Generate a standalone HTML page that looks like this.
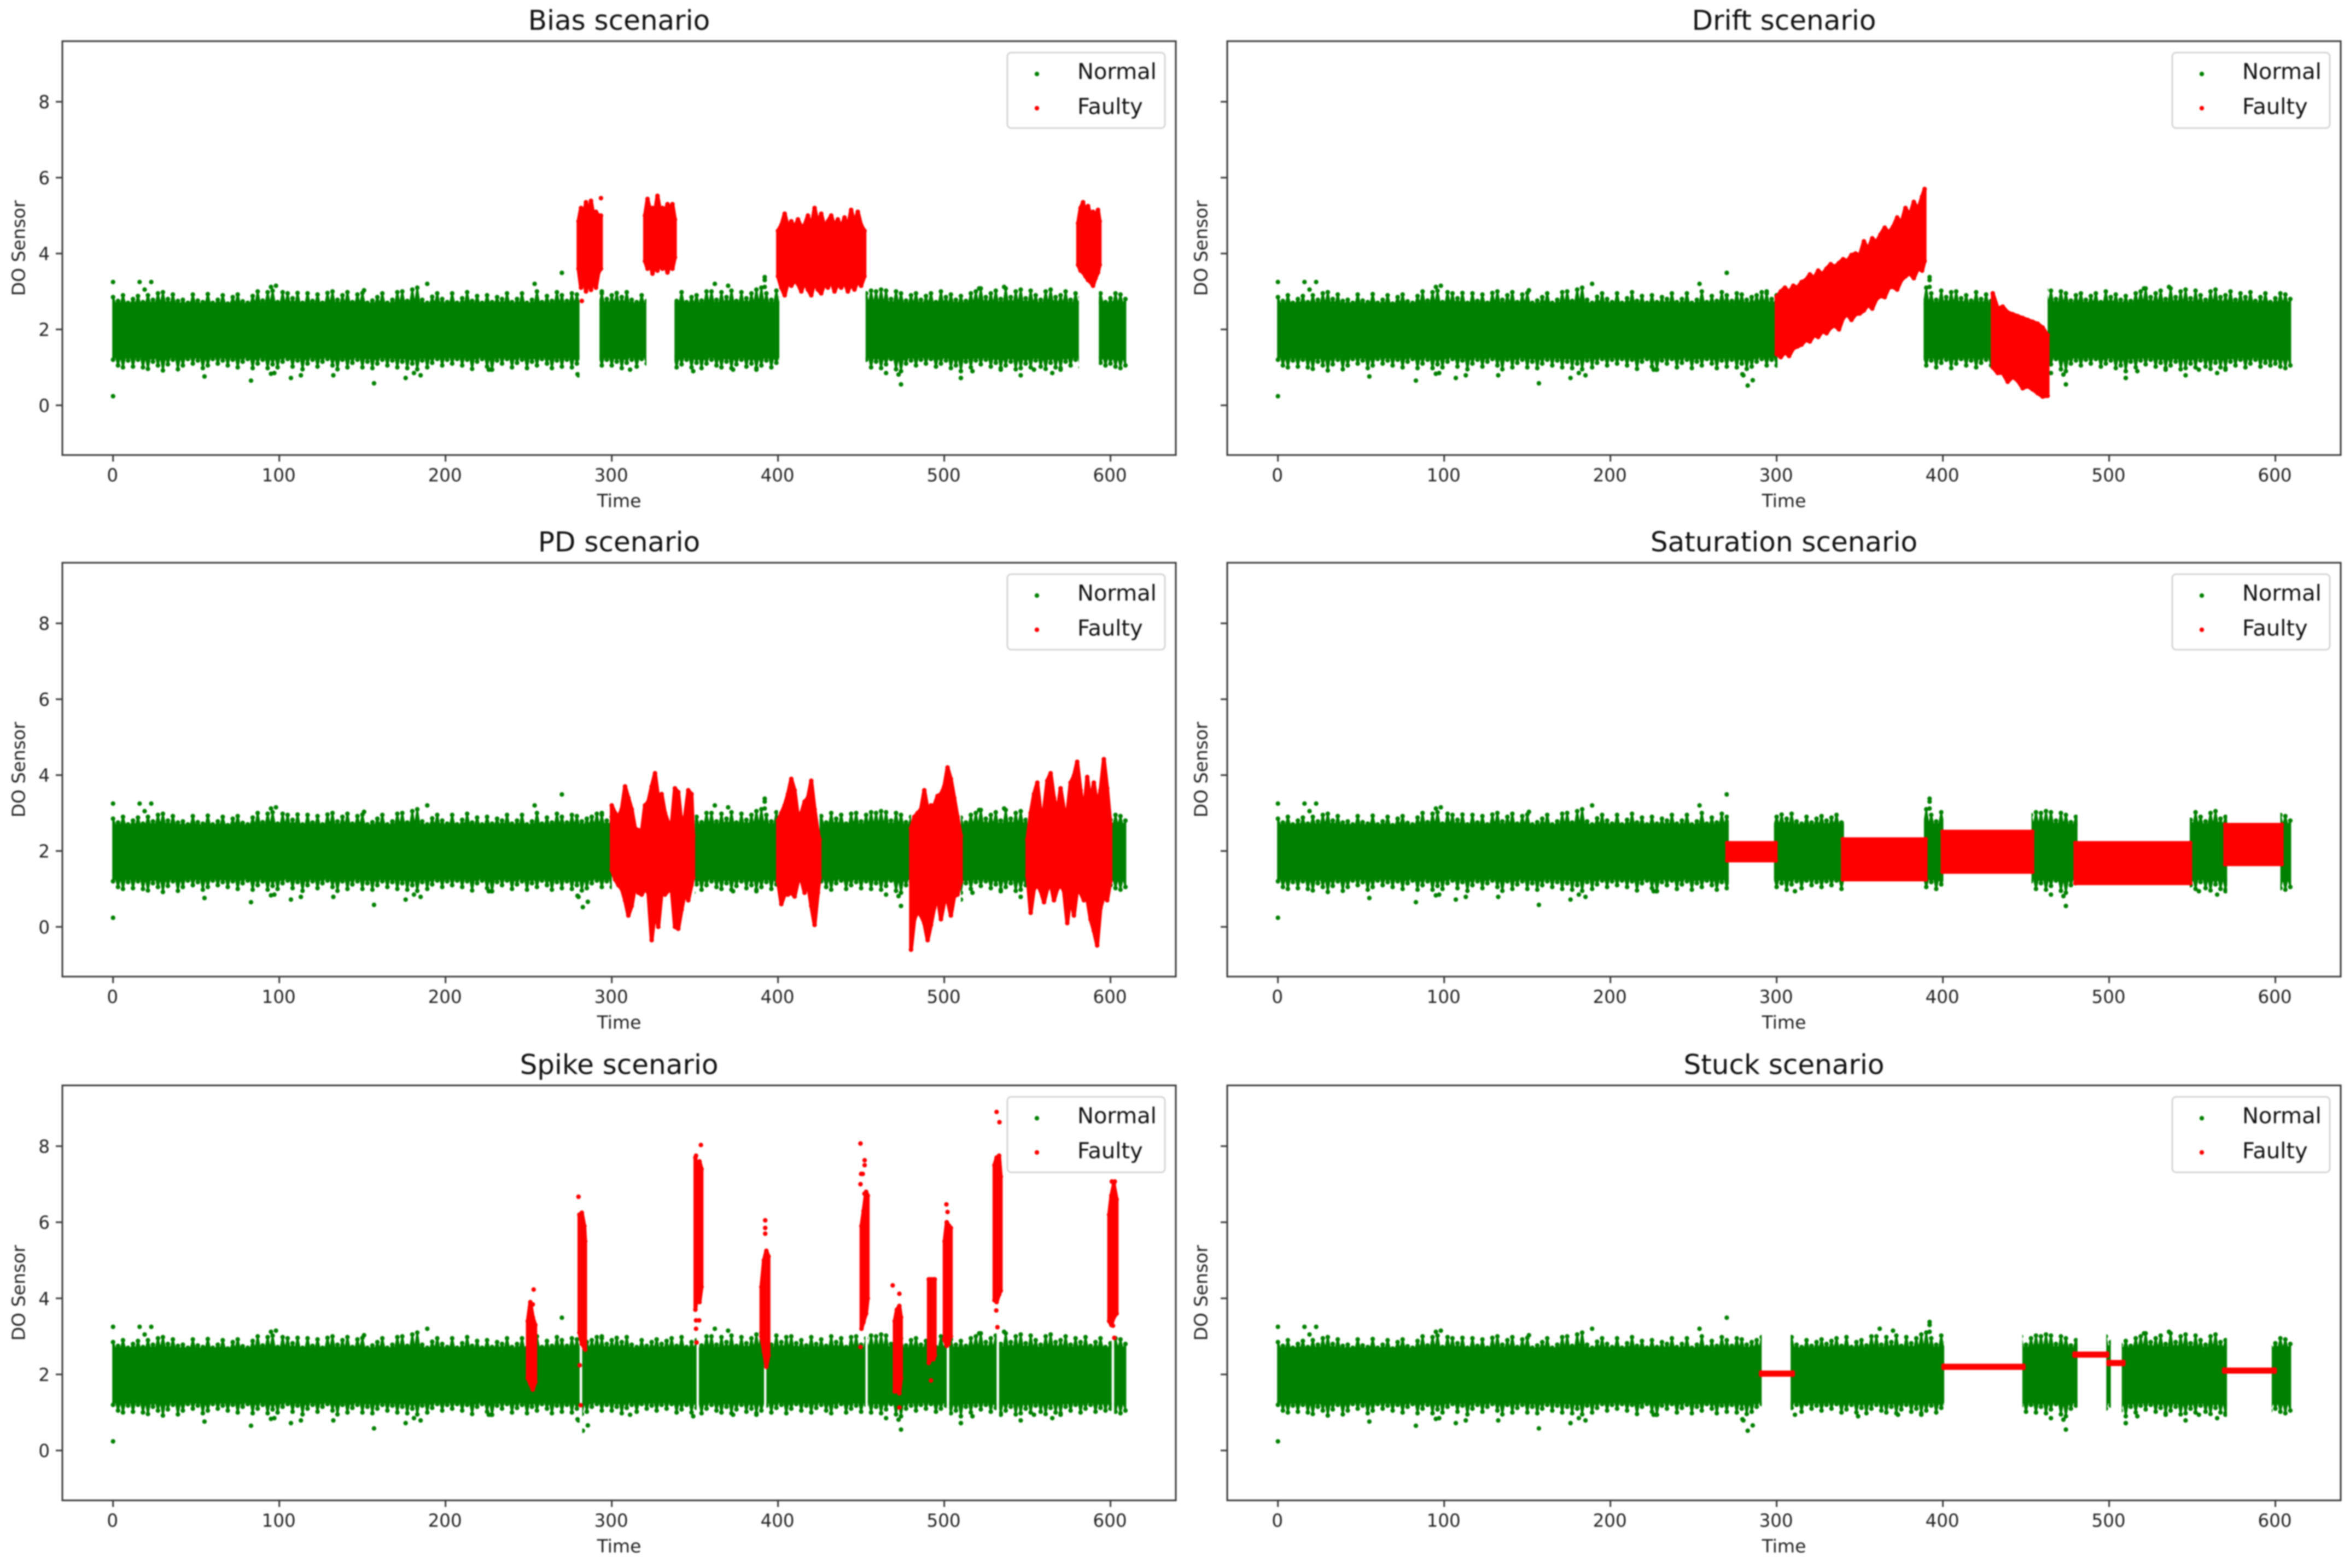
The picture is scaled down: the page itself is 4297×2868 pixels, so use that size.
<!DOCTYPE html>
<html lang="en">
<head>
<meta charset="utf-8">
<title>DO sensor fault scenarios</title>
<style>
html,body{margin:0;padding:0;background:#fff;}
svg{display:block;filter:blur(1.2px);font-family:"DejaVu Sans","Liberation Sans",sans-serif;}
</style>
</head>
<body>
<svg id="figure" xmlns="http://www.w3.org/2000/svg" width="4297" height="2868" viewBox="0 0 4297 2868"></svg>
<script>
// ---- axis domain and tick labels ----
const xTickValues = [0, 100, 200, 300, 400, 500, 600];
const yTickValues = [0, 2, 4, 6, 8];
const xDomain = [-30.5, 639.3];
const yDomain = [-1.311, 9.597];

// ---- normal series (shared by all panels): solid core plus sampled fringe ----
const normalCoreTop = 2.66;
const normalCoreBottom = 1.3;
const normalTimes = [0,3,6,9,12,15,18,21,24,27,30,33,36,39,42,45,48,51,54,57,60,63,66,69,72,75,78,81,84,87,90,93,96,99,102,105,108,111,114,117,120,123,126,129,132,135,138,141,144,147,150,153,156,159,162,165,168,171,174,177,180,183,186,189,192,195,198,201,204,207,210,213,216,219,222,225,228,231,234,237,240,243,246,249,252,255,258,261,264,267,270,273,276,279,282,285,288,291,294,297,300,303,306,309,312,315,318,321,324,327,330,333,336,339,342,345,348,351,354,357,360,363,366,369,372,375,378,381,384,387,390,393,396,399,402,405,408,411,414,417,420,423,426,429,432,435,438,441,444,447,450,453,456,459,462,465,468,471,474,477,480,483,486,489,492,495,498,501,504,507,510,513,516,519,522,525,528,531,534,537,540,543,546,549,552,555,558,561,564,567,570,573,576,579,582,585,588,591,594,597,600,603,606,609];
const normalUpper = [2.85,2.75,2.9,2.7,2.8,2.88,2.72,2.9,2.78,2.95,
2.98,2.8,2.92,2.75,2.78,2.7,2.92,2.76,2.72,2.93,
2.7,2.78,2.9,2.68,2.85,2.92,2.74,2.7,2.88,3.0,
2.76,2.98,3.02,2.72,2.98,2.95,2.82,2.96,2.7,2.95,
2.75,2.92,2.7,2.96,3.0,2.78,2.9,2.98,2.72,2.92,
2.96,2.7,2.76,2.85,2.95,2.7,2.78,2.98,3.0,2.75,
3.05,3.1,2.78,2.7,2.86,2.95,2.8,2.72,2.95,2.7,
2.82,2.98,2.75,2.88,2.7,2.9,2.72,2.85,2.8,2.95,
2.72,2.8,2.95,2.7,2.78,3.0,2.72,2.88,2.75,2.98,
2.9,2.75,2.95,2.92,2.78,2.85,2.9,2.98,2.95,2.8,
2.9,2.96,2.85,2.98,2.78,2.72,2.9,2.75,2.85,2.92,
2.8,2.88,2.95,2.75,2.98,2.72,2.85,2.9,2.76,3.0,
3.0,2.78,2.98,2.85,3.02,2.75,2.98,2.82,2.95,3.05,
3.1,2.95,2.78,3.02,2.85,2.98,3.0,2.82,2.9,2.76,
2.98,2.8,2.92,2.75,3.0,2.85,2.95,2.72,2.98,3.0,
2.78,2.95,3.02,3.0,3.05,3.02,2.8,3.0,2.95,2.76,
2.9,2.95,2.78,2.88,2.95,2.72,3.0,2.85,2.92,2.78,
2.88,2.75,2.95,3.0,3.08,2.85,2.95,3.02,2.8,3.08,
2.85,3.0,3.05,2.82,3.02,2.9,2.78,3.0,3.05,2.85,
2.9,3.0,2.78,2.95,2.85,2.98,2.75,2.85,2.95,2.72,
2.82,2.95,2.92,2.8];
const normalLower = [1.2,1.05,1.0,1.18,1.02,1.2,1.0,0.96,1.15,1.05,
0.92,1.08,1.2,0.95,1.05,1.22,1.1,1.18,0.98,1.05,
1.22,1.1,1.18,1.05,1.2,1.0,1.15,1.22,0.98,1.1,
1.2,0.98,1.08,1.0,1.15,1.22,1.02,1.18,0.95,1.1,
1.2,1.02,1.15,1.22,1.05,0.95,1.2,1.0,1.12,1.2,
1.0,1.15,0.98,1.1,1.2,1.05,1.18,1.0,1.15,0.98,
1.1,0.95,1.18,1.0,1.12,1.22,1.05,1.2,1.1,1.22,
1.05,1.2,0.96,1.15,1.22,1.02,0.94,1.18,1.1,1.22,
1.0,1.12,1.2,0.98,1.15,1.05,1.22,1.1,0.98,1.18,
1.02,1.2,1.0,1.1,0.96,1.02,1.15,1.22,1.05,1.2,
1.05,1.15,0.98,1.12,1.2,1.02,1.22,1.1,1.18,1.05,
1.2,1.1,1.22,1.0,1.08,1.2,1.0,1.12,0.98,1.1,
1.2,1.05,1.0,1.15,0.98,1.08,1.2,1.02,1.1,0.98,
1.05,1.18,1.0,1.12,1.2,0.98,1.1,1.22,1.05,1.18,
1.0,1.12,1.2,1.05,0.98,1.15,1.22,1.0,1.1,1.18,
1.02,1.2,1.0,1.15,0.98,1.08,1.22,0.95,0.9,1.1,
1.18,1.05,1.2,1.1,1.22,1.02,1.1,1.18,0.98,1.05,
0.9,1.15,1.0,1.18,1.08,1.2,1.02,1.12,0.98,1.05,
1.15,0.95,0.98,1.1,1.0,1.18,1.02,0.96,1.12,1.0,
0.98,1.15,1.05,1.2,1.0,1.1,1.2,1.02,1.12,1.05,
1.1,1.02,0.98,1.05];

// ---- normal outliers (shared by all panels) ----
const normalOutlierTimes = [0,16,23,19,0,55,83,95,97,107,113,132.5,157,176,181,185,189,95,98,151,253.6,270,280,226,294,311,349,373,387,362,370,392,392,392,465,474,472.5,510,517,546,534,565,554,570,536,521,282.6,285.6,279.4,227.5,510];
const normalOutlierValues = [3.25,3.25,3.25,3.05,0.24,0.76,0.65,0.83,0.85,0.72,0.79,0.79,0.58,0.72,0.85,0.79,3.2,3.12,3.15,3.03,3.2,3.49,0.79,0.94,3.0,0.94,0.9,0.94,0.94,3.2,3.15,3.3,3.12,3.38,0.85,0.55,0.81,0.72,0.9,0.79,0.94,0.85,0.94,0.94,3.12,3.08,0.52,0.66,0.82,0.94,0.72];

// ---- time spans where each panel shows normal readings ----
const biasNormalRuns = [[-2,280.6],[292.6,320.8],[337.7,400.8],[452.7,581],[593,611]];
const driftNormalRuns = [[-2,300.5],[388.4,429.5],[463,611]];
const pdNormalRuns = [[-2,300],[350,400],[425,480],[510,550],[600,611]];
const saturationNormalRuns = [[-2,271.2],[298.4,340.5],[388.6,400.3],[453.3,481],[548.5,571],[603,611]];
const spikeNormalRuns = [[-2,280.7],[282.2,351],[352.4,391.6],[393,452.6],[454,501.5],[503,531.5],[533,600.7],[602.2,611]];
const stuckNormalRuns = [[-2,291],[308.4,400.8],[447.8,481],[498.3,501],[507.6,570.9],[597.8,611]];

// ---- bias faults ----
const biasFaultTimes = [[280,281.5,283,284.5,286,287.5,289,290.5,292,293.5],[320,321.5,323,324.5,326,327.5,329,330.5,332,333.5,335,336.5,338],[400,402,404,406,408,410,412,414,416,418,420,422,424,426,428,430,432,434,436,438,440,442,444,446,448,450,452],[580.5,582,583.5,585,586.5,588,589.5,591,592.5,593.5]];
const biasFaultUpper = [[4.85,5.2,4.95,5.35,5.05,5.39,5.0,5.1,5.0,5.0],[5.0,5.44,5.15,5.2,5.1,5.52,5.15,5.2,5.1,5.3,5.2,5.3,4.9],[4.6,4.75,5.05,4.7,4.85,4.68,4.9,4.7,4.75,5.0,4.68,5.2,4.8,5.05,4.7,4.85,5.0,4.72,4.9,4.68,4.95,4.7,5.15,4.8,5.1,4.75,4.6],[4.8,5.2,5.35,5.05,5.25,5.0,5.1,5.0,5.15,4.85]];
const biasFaultLower = [[3.6,3.1,3.4,3.0,3.3,3.04,3.35,3.1,3.5,3.6],[3.8,3.6,3.75,3.47,3.7,3.55,3.75,3.6,3.7,3.5,3.7,3.6,3.9],[3.4,3.1,2.9,3.25,3.15,3.28,3.2,3.0,3.25,3.05,2.9,3.25,3.05,2.95,3.2,3.1,3.28,3.0,3.2,3.1,3.25,3.0,3.2,3.05,3.28,3.15,3.4],[3.7,3.55,3.5,3.4,3.3,3.25,3.15,3.35,3.5,3.7]];
const biasFaultOutlierTimes = [282,293.5];
const biasFaultOutlierValues = [2.75,5.46];

// ---- drift faults ----
const driftFaultTimes = [[300,302.5,305,307.5,310,312.5,315,317.5,320,322.5,325,327.5,330,332.5,335,337.5,340,342.5,345,347.5,350,352.5,355,357.5,360,362.5,365,367.5,370,372.5,375,377.5,380,382.5,385,387.5,389],[430,433,436,439,442,445,448,451,454,457,460,463]];
const driftFaultUpper = [[2.85,3.0,3.1,2.98,3.15,3.1,3.25,3.3,3.45,3.35,3.55,3.45,3.6,3.72,3.65,3.75,3.85,3.8,3.96,4.0,3.95,4.32,4.1,4.4,4.3,4.5,4.68,4.55,4.7,4.95,4.8,5.2,5.0,5.36,5.15,5.5,5.7],[2.95,2.55,2.6,2.45,2.4,2.35,2.3,2.25,2.2,2.15,2.05,1.85]];
const driftFaultLower = [[1.35,1.27,1.4,1.3,1.5,1.55,1.6,1.72,1.68,1.85,1.8,1.95,1.9,2.05,2.1,2.0,2.3,2.4,2.25,2.4,2.42,2.5,2.65,2.55,2.8,2.88,2.85,3.1,3.12,3.05,3.3,3.4,3.48,3.35,3.6,3.55,3.8],[1.0,0.85,0.85,0.62,0.75,0.65,0.45,0.5,0.42,0.32,0.23,0.25]];
const driftFaultOutlierTimes = [];
const driftFaultOutlierValues = [];

// ---- PD faults ----
const pdFaultTimes = [[300,302,304,306,308,310,312,314,316,318,320,322,324,326,328,330,332,334,336,338,340,342,344,346,348,349],[400,402,404,406,408,410,412,414,416,418,420,422,424,425],[480,482,484,486,488,490,492,494,496,498,500,502,504,506,508,510],[550,552,554,556,558,560,562,564,566,568,570,572,574,576,578,580,582,584,586,588,590,592,594,596,598,600]];
const pdFaultUpper = [[3.2,3.0,2.9,3.1,3.7,3.4,3.1,2.6,2.55,2.5,3.2,3.3,3.7,4.05,3.4,3.5,3.0,2.75,2.7,3.65,3.55,2.7,2.9,3.6,3.5,2.4],[2.8,3.0,3.2,3.5,3.9,3.6,2.9,3.0,3.3,3.4,3.85,3.1,2.5,2.3],[2.6,2.9,3.0,3.1,3.6,3.1,3.2,3.2,3.45,3.5,3.7,4.2,3.9,3.4,2.9,2.4],[2.3,3.0,3.5,3.8,3.0,3.1,3.85,4.05,3.4,3.0,3.65,3.1,3.0,3.8,3.98,4.35,3.6,3.0,3.95,3.3,3.8,3.2,3.6,4.42,3.65,2.7]];
const pdFaultLower = [[1.5,1.25,1.1,1.0,0.7,0.3,0.55,1.05,0.9,0.85,1.0,0.9,-0.35,0.4,0.0,0.9,0.85,0.95,1.0,0.0,-0.05,0.45,0.9,0.7,1.1,1.3],[1.2,0.6,0.85,0.85,0.9,0.8,1.2,1.25,0.9,1.15,0.55,0.05,0.9,1.3],[-0.6,0.2,0.4,0.3,0.1,-0.35,0.05,0.5,0.8,0.2,0.65,0.7,0.3,0.8,0.85,1.2],[1.35,0.37,1.0,1.1,0.95,0.65,1.0,1.15,0.7,1.0,1.1,0.95,0.1,0.8,0.3,1.0,0.9,0.7,0.75,0.2,-0.1,-0.49,0.5,0.8,0.7,1.2]];
const pdFaultOutlierTimes = [];
const pdFaultOutlierValues = [];

// ---- saturation faults ----
const saturationFaultTimes = [[270.3,299.4],[339.8,389.6],[399.8,453.8],[479.7,548.8],[569.9,603.8]];
const saturationFaultUpper = [[2.21,2.21],[2.31,2.31],[2.51,2.51],[2.21,2.21],[2.69,2.69]];
const saturationFaultLower = [[1.75,1.75],[1.25,1.25],[1.45,1.45],[1.15,1.15],[1.65,1.65]];
const saturationFaultOutlierTimes = [];
const saturationFaultOutlierValues = [];

// ---- spike faults ----
const spikeFaultTimes = [[249.5,251,252.5,254],[280.5,282,283.5,284],[350.3,351.5,352.8,354],[390,391.5,393,394.3],[450.2,451.5,453,454],[470.2,471.5,473,474],[490.7,492,493.5,494.3],[500.2,501.5,503,504],[530.2,531.5,533,534],[599.2,600.5,602,603.7]];
const spikeFaultUpper = [[3.4,3.9,3.5,3.3],[6.2,6.25,5.9,5.5],[7.7,7.2,7.6,7.4],[4.3,5.0,5.25,5.1],[5.9,6.3,6.8,6.7],[3.4,3.7,3.8,3.5],[4.5,4.5,4.5,4.5],[5.5,6.0,5.9,5.85],[7.5,7.7,7.75,7.2],[6.2,6.7,7.0,6.6]];
const spikeFaultLower = [[1.9,1.75,1.6,1.8],[3.1,2.8,2.7,2.65],[3.7,4.2,3.9,4.3],[3.0,2.6,2.2,2.5],[3.2,3.4,3.6,4.0],[1.55,1.6,1.5,1.9],[2.3,2.4,2.4,2.5],[2.9,2.75,2.9,3.0],[3.95,3.9,4.1,4.2],[3.4,3.3,3.5,3.6]];
const spikeFaultOutlierTimes = [253,252.5,280,280.7,281.3,353.6,350.7,350.7,352.6,350.7,351,392.3,392.3,392.3,449.6,452.1,452.1,450,451,449.6,452,449.6,451.3,469,473,473,531.5,533.2,531.3,532,500,502.7,492,501.3,502,602.3,601.5,600.8,602.6];
const spikeFaultOutlierValues = [4.23,3.84,6.67,2.24,1.19,8.03,7.75,3.42,3.42,3.2,2.84,6.05,5.85,5.7,8.07,7.63,7.5,7.27,7.27,7.0,6.75,2.72,3.36,4.34,4.12,1.13,8.9,8.63,3.68,3.24,2.92,2.8,1.84,6.47,6.27,2.96,3.28,7.07,7.07];

// ---- stuck faults ----
const stuckFaultTimes = [[290.6,309.7],[400.4,448.5],[479.2,498.8],[499.6,508.6],[569.2,599.6]];
const stuckFaultUpper = [[2.05,2.05],[2.23,2.23],[2.55,2.55],[2.33,2.33],[2.13,2.13]];
const stuckFaultLower = [[1.99,1.99],[2.17,2.17],[2.49,2.49],[2.27,2.27],[2.07,2.07]];
const stuckFaultOutlierTimes = [];
const stuckFaultOutlierValues = [];

// ---- panel layout ----
const plotLeft = 114, plotTop = 75.3, plotWidth = 2036;
const plotHeights = [757, 757, 759];
const columnOffsets = [0, 2130];
const rowOffsets = [0, 954, 1910];
const yLabelCentres = [34, 2196];
const markRadius = 4.2;
const normalColour = '#008000';
const faultyColour = '#ff0000';
const svgNS = 'http://www.w3.org/2000/svg';
const figure = document.getElementById('figure');

function xScale(col, t) {
  return plotLeft + columnOffsets[col] + (t - xDomain[0]) / (xDomain[1] - xDomain[0]) * plotWidth;
}
function yScale(row, v) {
  return plotTop + rowOffsets[row] + (yDomain[1] - v) / (yDomain[1] - yDomain[0]) * plotHeights[row];
}
function make(tag, parent, attrs, text) {
  const el = document.createElementNS(svgNS, tag);
  for (const k in attrs) el.setAttribute(k, attrs[k]);
  if (text !== undefined) el.textContent = text;
  parent.appendChild(el);
  return el;
}
function vertex(col, row, t, v) {
  return xScale(col, t).toFixed(1) + ',' + yScale(row, v).toFixed(1);
}

function addEdgeDots(parent, col, row, times, upper, lower, colour, pointName) {
  times.forEach(function (t, i) {
    const top = make('circle', parent, { cx: xScale(col, t).toFixed(1), cy: yScale(row, upper[i]).toFixed(1), r: markRadius, fill: colour });
    
    
    const bottom = make('circle', parent, { cx: xScale(col, t).toFixed(1), cy: yScale(row, lower[i]).toFixed(1), r: markRadius, fill: colour });
    
    
  });
}

function drawNormalBand(parent, col, row, slug) {
  const pts = [];
  const n = normalTimes.length;
  for (let i = 0; i < n; i++) {
    pts.push(vertex(col, row, normalTimes[i], normalUpper[i]));
    if (i < n - 1) pts.push(vertex(col, row, (normalTimes[i] + normalTimes[i + 1]) / 2, normalCoreTop));
  }
  for (let i = n - 1; i >= 0; i--) {
    pts.push(vertex(col, row, normalTimes[i], normalLower[i]));
    if (i > 0) pts.push(vertex(col, row, (normalTimes[i] + normalTimes[i - 1]) / 2, normalCoreBottom));
  }
  const band = make('polygon', parent, { points: pts.join(' '), fill: normalColour, stroke: normalColour, 'stroke-width': 3, 'stroke-linejoin': 'round' });
  
  
  addEdgeDots(parent, col, row, normalTimes, normalUpper, normalLower, normalColour, slug + '-normal-point');
}

function drawFaultBand(parent, col, row, times, upper, lower, slug) {
  const pts = [];
  times.forEach(function (t, i) { pts.push(vertex(col, row, t, upper[i])); });
  for (let i = times.length - 1; i >= 0; i--) { pts.push(vertex(col, row, times[i], lower[i])); }
  const band = make('polygon', parent, { points: pts.join(' '), fill: faultyColour, stroke: faultyColour, 'stroke-width': 7, 'stroke-linejoin': 'round' });
  
  
  addEdgeDots(parent, col, row, times, upper, lower, faultyColour, slug + '-faulty-point');
}

function drawPoints(parent, col, row, times, values, colour, pointName) {
  times.forEach(function (t, i) {
    const dot = make('circle', parent, { cx: xScale(col, t).toFixed(1), cy: yScale(row, values[i]).toFixed(1), r: markRadius, fill: colour });
    
    
  });
}

function drawPanel(slug, title, col, row, runs, faultTimes, faultUpper, faultLower, faultOutT, faultOutV) {
  const L = plotLeft + columnOffsets[col], T = plotTop + rowOffsets[row], H = plotHeights[row];
  const panel = make('g', figure, {});
  
  

  // clip for normal runs
  const clip = make('clipPath', panel, { id: slug + '-normal-clip' });
  runs.forEach(function (r) {
    make('rect', clip, { x: xScale(col, r[0]), y: T, width: xScale(col, r[1]) - xScale(col, r[0]), height: H, rx: 3 });
  });

  // normal series
  const normal = make('g', panel, { 'clip-path': 'url(#' + slug + '-normal-clip)' });
  
  
  drawNormalBand(normal, col, row, slug);
  drawPoints(normal, col, row, normalOutlierTimes, normalOutlierValues, normalColour, slug + '-normal-outlier');

  // faulty series
  const faulty = make('g', panel, {});
  
  
  faultTimes.forEach(function (times, w) {
    drawFaultBand(faulty, col, row, times, faultUpper[w], faultLower[w], slug);
  });
  drawPoints(faulty, col, row, faultOutT, faultOutV, faultyColour, slug + '-faulty-outlier');

  // frame
  const frame = make('rect', panel, { x: L, y: T, width: plotWidth, height: H, fill: 'none', stroke: '#3a3a3a', 'stroke-width': 3 });
  
  

  // x ticks
  xTickValues.forEach(function (v) {
    const px = xScale(col, v);
    const tick = make('line', panel, { x1: px, x2: px, y1: T + H, y2: T + H + 12, stroke: '#3a3a3a', 'stroke-width': 3 });
    
    
    const label = make('text', panel, { x: px - 1, y: T + H + 48, 'text-anchor': 'middle', 'font-size': 32.5, fill: '#222' }, String(v));
    
    
  });

  // y ticks
  yTickValues.forEach(function (v) {
    const py = yScale(row, v);
    const tick = make('line', panel, { x1: L - 12, x2: L, y1: py, y2: py, stroke: '#3a3a3a', 'stroke-width': 3 });
    
    
    if (col === 0) {
      const label = make('text', panel, { x: L - 23, y: py + 12, 'text-anchor': 'end', 'font-size': 32.5, fill: '#222' }, String(v));
      
      
    }
  });

  // titles and axis labels
  const cx = L + plotWidth / 2;
  const titleEl = make('text', panel, { x: cx, y: T - 21, 'text-anchor': 'middle', 'font-size': 50, fill: '#111' }, title);
  
  
  const xTitle = make('text', panel, { x: cx, y: T + H + 95, 'text-anchor': 'middle', 'font-size': 33, fill: '#222' }, 'Time');
  
  
  const yc = T + H / 2;
  const lx = yLabelCentres[col];
  const yTitle = make('text', panel, { x: lx, y: yc, 'text-anchor': 'middle', 'dominant-baseline': 'central', 'font-size': 33, fill: '#222', transform: 'rotate(-90 ' + lx + ' ' + yc + ')' }, 'DO Sensor');
  
  

  // legend
  const lg = make('g', panel, {});
  
  
  const lgLeft = L + 1728, lgTop = T + 21;
  const box = make('rect', lg, { x: lgLeft, y: lgTop, width: 288, height: 138, rx: 7, fill: '#fff', 'fill-opacity': 0.85, stroke: '#d6d6d6', 'stroke-width': 3 });
  
  
  const m1 = make('circle', lg, { cx: lgLeft + 54, cy: lgTop + 39, r: markRadius, fill: normalColour });
  
  
  const t1 = make('text', lg, { x: lgLeft + 128, y: lgTop + 48, 'font-size': 40, fill: '#111' }, 'Normal');
  
  
  const m2 = make('circle', lg, { cx: lgLeft + 54, cy: lgTop + 101.6, r: markRadius, fill: faultyColour });
  
  
  const t2 = make('text', lg, { x: lgLeft + 128, y: lgTop + 112, 'font-size': 40, fill: '#111' }, 'Faulty');
  
  
}

drawPanel('bias', 'Bias scenario', 0, 0, biasNormalRuns, biasFaultTimes, biasFaultUpper, biasFaultLower, biasFaultOutlierTimes, biasFaultOutlierValues);
drawPanel('drift', 'Drift scenario', 1, 0, driftNormalRuns, driftFaultTimes, driftFaultUpper, driftFaultLower, driftFaultOutlierTimes, driftFaultOutlierValues);
drawPanel('pd', 'PD scenario', 0, 1, pdNormalRuns, pdFaultTimes, pdFaultUpper, pdFaultLower, pdFaultOutlierTimes, pdFaultOutlierValues);
drawPanel('saturation', 'Saturation scenario', 1, 1, saturationNormalRuns, saturationFaultTimes, saturationFaultUpper, saturationFaultLower, saturationFaultOutlierTimes, saturationFaultOutlierValues);
drawPanel('spike', 'Spike scenario', 0, 2, spikeNormalRuns, spikeFaultTimes, spikeFaultUpper, spikeFaultLower, spikeFaultOutlierTimes, spikeFaultOutlierValues);
drawPanel('stuck', 'Stuck scenario', 1, 2, stuckNormalRuns, stuckFaultTimes, stuckFaultUpper, stuckFaultLower, stuckFaultOutlierTimes, stuckFaultOutlierValues);
</script>
</body>
</html>
